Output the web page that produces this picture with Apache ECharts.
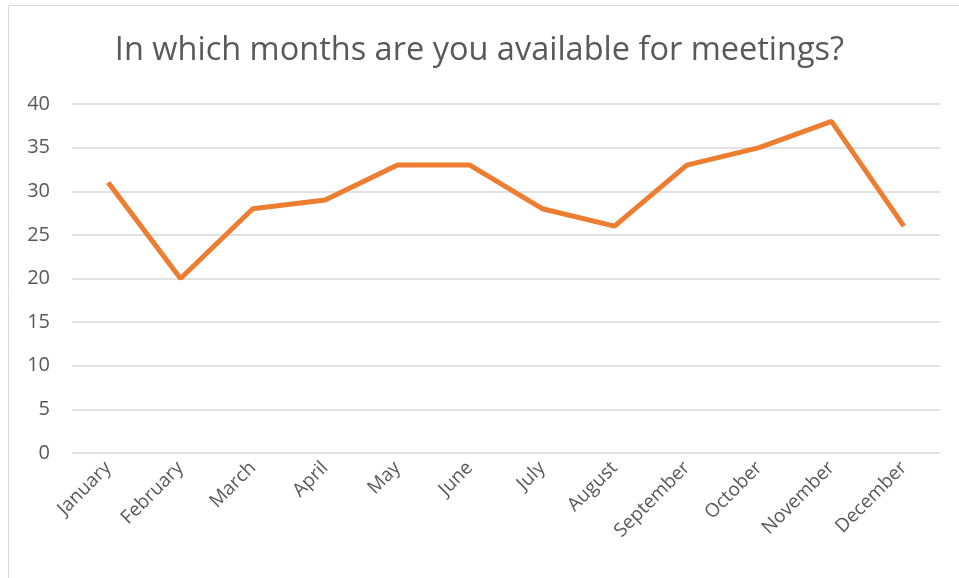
<!DOCTYPE html>
<html>
<head>
<meta charset="utf-8">
<script src="https://cdn.jsdelivr.net/npm/echarts@6/dist/echarts.min.js"></script>
<style>
  html, body { margin: 0; padding: 0; background: #fff; }
  #chart { width: 959px; height: 578px; }
</style>
</head>
<body>
<div id="chart"></div>
<script>
var months = ['January', 'February', 'March', 'April', 'May', 'June',
  'July', 'August', 'September', 'October', 'November', 'December'];
var available = [31, 20, 28, 29, 33, 33, 28, 26, 33, 35, 38, 26];

var myChart = echarts.init(document.getElementById('chart'));
var option = {
  animation: false,
  graphic: [{
    type: 'rect',
    shape: { x: 8.5, y: 5.5, width: 1000, height: 1000 },
    style: { fill: 'none', stroke: '#d9d9d9', lineWidth: 1 }
  }],
  title: {
    text: 'In which months are you available for meetings?',
    left: 'center',
    top: 29,
    textStyle: { fontFamily: 'Open Sans', fontSize: 32.5, fontWeight: 'normal', color: '#595959' }
  },
  grid: { left: 72, right: 19, top: 104, bottom: 125, containLabel: false },
  xAxis: {
    type: 'category',
    data: months,
    boundaryGap: true,
    axisLine: { show: false },
    axisTick: { show: false },
    axisLabel: {
      rotate: 45,
      interval: 0,
      margin: 12,
      fontFamily: 'Open Sans',
      fontSize: 19,
      color: '#595959'
    }
  },
  yAxis: {
    type: 'value',
    min: 0,
    max: 40,
    interval: 5,
    axisLine: { show: false },
    axisTick: { show: false },
    splitLine: { lineStyle: { color: '#d9d9d9', width: 1.5 } },
    axisLabel: {
      margin: 22,
      fontFamily: 'Open Sans',
      fontSize: 20,
      color: '#595959'
    }
  },
  series: [{
    type: 'line',
    data: available,
    symbol: 'none',
    lineStyle: { color: '#ED7D31', width: 5 },
    itemStyle: { color: '#ED7D31' }
  }]
};
myChart.setOption(option);
</script>
</body>
</html>
